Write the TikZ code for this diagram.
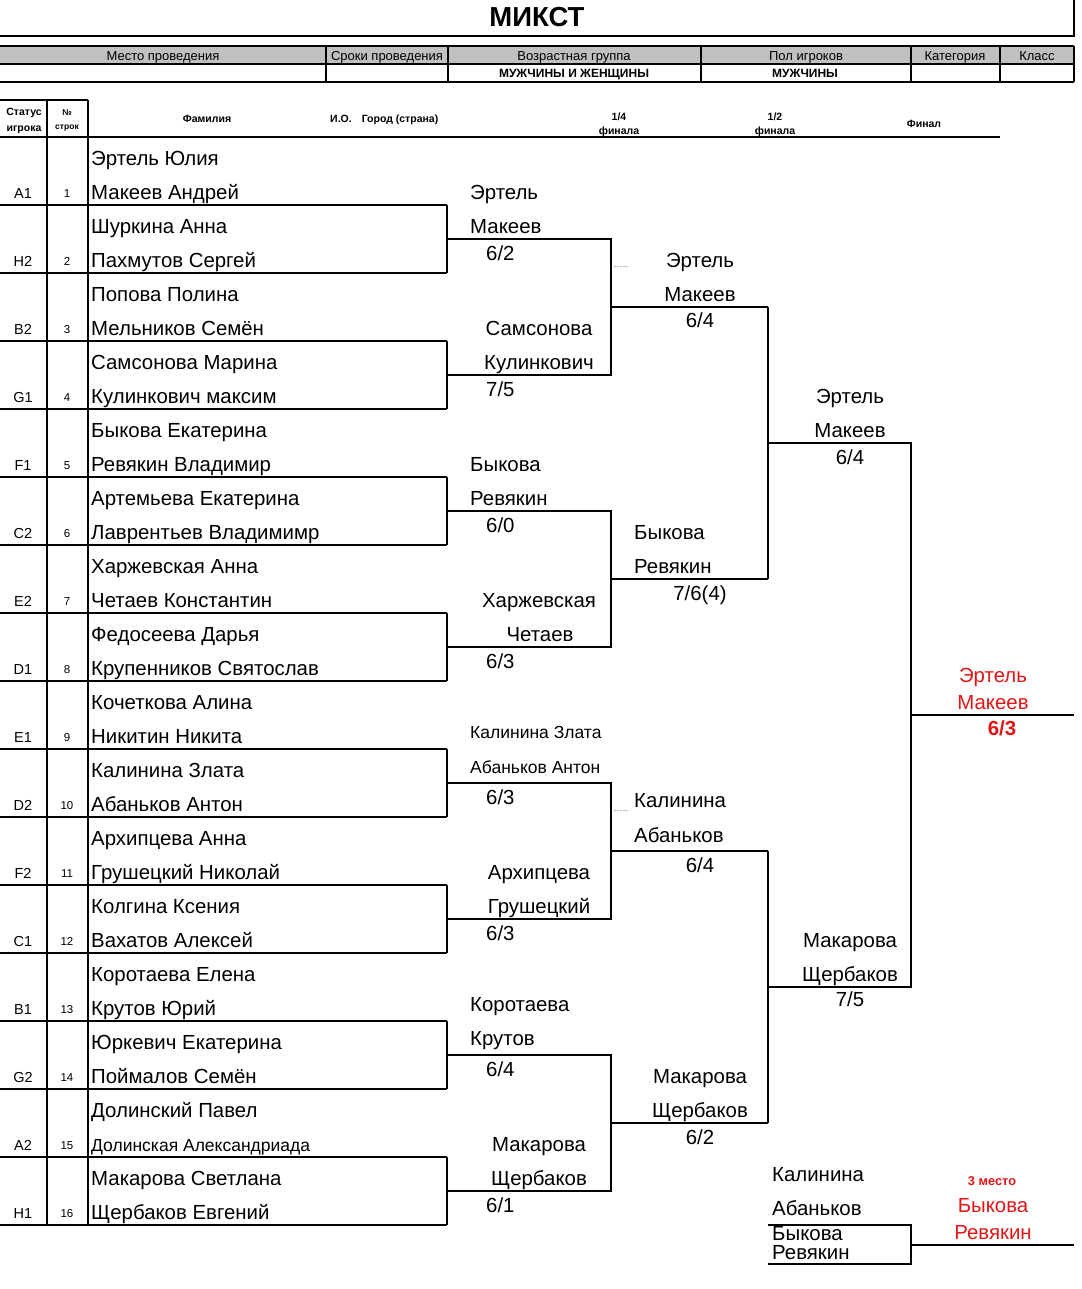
\documentclass[tikz,border=0pt]{standalone}
\usepackage{fontspec}
\setmainfont{Liberation Sans}
\definecolor{hdrgray}{RGB}{192,192,192}
\definecolor{redtxt}{RGB}{226,22,22}
\begin{document}
\begin{tikzpicture}[x=1pt,y=-1pt,
  ln/.style={line width=1.1pt},
  thk/.style={line width=2pt},
  nm/.style={font=\fontsize{20.4}{24}\selectfont, inner sep=0pt, anchor=mid west, yshift=-5pt},
  nmc/.style={font=\fontsize{20.4}{24}\selectfont, inner sep=0pt, anchor=mid, yshift=-5pt},
  nms/.style={font=\fontsize{17.5}{21}\selectfont, inner sep=0pt, anchor=mid west, yshift=-4pt},
  lab/.style={font=\fontsize{14.5}{17}\selectfont, inner sep=0pt, anchor=mid, yshift=-3pt},
  num/.style={font=\fontsize{11.5}{14}\selectfont, inner sep=0pt, anchor=mid, yshift=-2pt},
  hd/.style={font=\fontsize{13}{15}\selectfont, inner sep=0pt, anchor=mid, yshift=-3pt},
  hdb/.style={font=\fontsize{12}{14}\bfseries\selectfont, inner sep=0pt, anchor=mid, yshift=-2pt},
  colh/.style={font=\fontsize{10.5}{13}\bfseries\selectfont, inner sep=0pt, anchor=mid, yshift=-2pt},
  colt/.style={font=\fontsize{8.5}{10}\bfseries\selectfont, inner sep=0pt, anchor=mid, yshift=-2pt},
  rd/.style={text=redtxt}]
\useasboundingbox (0,0) rectangle (1081,1289);

% ---------- title ----------
\node[font=\fontsize{27.5}{32}\bfseries\selectfont, inner sep=0pt, anchor=mid, yshift=-7pt] (title) at (537,17) {МИКСТ};
\coordinate (tl) at (0,36); \coordinate (tr) at (1074,36); \coordinate (tt) at (1074,0);
\draw[ln] (tl) -- (tr) -- (tt);

% ---------- header table ----------
\fill[hdrgray] (0,46) rectangle (1074,64);
\foreach \yy in {46,64,82} \draw[ln] (0,\yy) -- (1074,\yy);
\foreach \xx in {326,448,701,911,1000,1074} \draw[ln] (\xx,46) -- (\xx,82);
\node[hd] (h1) at (163,55) {Место проведения};
\node[hd] (h2) at (387,55) {Сроки проведения};
\node[hd] (h3) at (574,55) {Возрастная группа};
\node[hd] (h4) at (806,55) {Пол игроков};
\node[hd] (h5) at (955,55) {Категория};
\node[hd] (h6) at (1037,55) {Класс};
\node[hdb] (v3) at (574,73) {МУЖЧИНЫ И ЖЕНЩИНЫ};
\node[hdb] (v4) at (805,73) {МУЖЧИНЫ};

% ---------- column headers ----------
\draw[ln] (0,100) -- (88,100);
\draw[ln] (47,100) -- (47,1225);
\draw[thk] (88,100) -- (88,1225);
\draw[ln] (0,137) -- (1000,137);
\node[colh] (c1a) at (24,111) {Статус};
\node[colh] (c1b) at (24,127) {игрока};
\node[colt] (c2a) at (67,111) {№};
\node[colt] (c2b) at (67,125) {строк};
\node[colh] (c3) at (207,118) {Фамилия};
\node[colh, anchor=mid west] (c4) at (330,118) {И.О.\hspace{10pt}Город (страна)};
\node[colh] (c5a) at (619,116) {1/4};
\node[colh] (c5b) at (619,130) {финала};
\node[colh] (c6a) at (775,116) {1/2};
\node[colh] (c6b) at (775,130) {финала};
\node[colh] (c7) at (924,123) {Финал};

% ---------- grid of slots ----------
\foreach \k in {1,...,16} \draw[ln] (0,{137+68*\k}) -- (447,{137+68*\k});
\foreach \m in {1,...,8} \draw[ln] (447,{137+68*(2*\m-1)}) -- (447,{137+68*(2*\m)});

% ---------- players ----------
\foreach \k/\st/\a/\b in {
 1/A1/Эртель Юлия/Макеев Андрей,
 2/H2/Шуркина Анна/Пахмутов Сергей,
 3/B2/Попова Полина/Мельников Семён,
 4/G1/Самсонова Марина/Кулинкович максим,
 5/F1/Быкова Екатерина/Ревякин Владимир,
 6/C2/Артемьева Екатерина/Лаврентьев Владимимр,
 7/E2/Харжевская Анна/Четаев Константин,
 8/D1/Федосеева Дарья/Крупенников Святослав,
 9/E1/Кочеткова Алина/Никитин Никита,
 10/D2/Калинина Злата/Абаньков Антон,
 11/F2/Архипцева Анна/Грушецкий Николай,
 12/C1/Колгина Ксения/Вахатов Алексей,
 13/B1/Коротаева Елена/Крутов Юрий,
 14/G2/Юркевич Екатерина/Поймалов Семён,
 15/A2/Долинский Павел/,
 16/H1/Макарова Светлана/Щербаков Евгений}{
  \node[nm] (p\k-a) at (91,{137+68*(\k-1)+21}) {\a};
  \node[nm] (p\k-b) at (91,{137+68*(\k-1)+55}) {\b};
  \node[lab] (s\k) at (23,{137+68*(\k-1)+56}) {\st};
  \node[num] (n\k) at (67,{137+68*(\k-1)+56}) {\k};
}
\node[nms] (p15-c) at (91,1145) {Долинская Александриада};

% ---------- bracket lines ----------
\foreach \p in {1,...,4}{
  \coordinate (r\p-a) at (447,{103+136*(2*\p-1)});
  \coordinate (r\p-b) at (611,{103+136*(2*\p-1)});
  \coordinate (r\p-c) at (611,{103+136*(2*\p)});
  \coordinate (r\p-d) at (447,{103+136*(2*\p)});
  \coordinate (q\p-a) at (611,{103+136*(2*\p)-68});
  \coordinate (q\p-b) at (768,{103+136*(2*\p)-68});
  \draw[ln] (r\p-a) -- (r\p-b) -- (r\p-c) -- (r\p-d);
  \draw[ln] (q\p-a) -- (q\p-b);
}
\coordinate (sf1-a) at (768,443); \coordinate (sf1-b) at (911,443);
\coordinate (sf2-a) at (768,987); \coordinate (sf2-b) at (911,987);
\draw[ln] (q1-b) -- (q2-b);
\draw[ln] (q3-b) -- (q4-b);
\draw[ln] (sf1-a) -- (sf1-b) -- (sf2-b) -- (sf2-a);
\coordinate (fin-a) at (911,715); \coordinate (fin-b) at (1074,715);
\draw[ln] (fin-a) -- (fin-b);
% third place
\coordinate (t-a) at (768,1225); \coordinate (t-b) at (911,1225);
\coordinate (t-c) at (911,1264); \coordinate (t-d) at (768,1264);
\coordinate (t-e) at (911,1245); \coordinate (t-f) at (1074,1245);
\draw[ln] (t-a) -- (t-b) -- (t-c) -- (t-d);
\draw[ln] (t-e) -- (t-f);
% faint marks
\coordinate (fm1-a) at (614,266); \coordinate (fm1-b) at (628,266);
\coordinate (fm2-a) at (614,810); \coordinate (fm2-b) at (628,810);
\draw[gray!60, line width=0.6pt, dash pattern=on 2pt off 1pt] (fm1-a) -- (fm1-b);
\draw[gray!60, line width=0.6pt, dash pattern=on 2pt off 1pt] (fm2-a) -- (fm2-b);

% ---------- round 1 winners ----------
\node[nm] (w1a) at (470,192) {Эртель};
\node[nm] (w1b) at (470,226) {Макеев};
\node[nm] (w1s) at (486,253) {6/2};
\node[nmc] (w2a) at (539,328) {Самсонова};
\node[nmc] (w2b) at (539,362) {Кулинкович};
\node[nm] (w2s) at (486,389) {7/5};
\node[nm] (w3a) at (470,464) {Быкова};
\node[nm] (w3b) at (470,498) {Ревякин};
\node[nm] (w3s) at (486,525) {6/0};
\node[nmc] (w4a) at (539,600) {Харжевская};
\node[nmc] (w4b) at (540,634) {Четаев};
\node[nm] (w4s) at (486,661) {6/3};
\node[nms] (w5a) at (470,732) {Калинина Злата};
\node[nms] (w5b) at (470,767) {Абаньков Антон};
\node[nm] (w5s) at (486,797) {6/3};
\node[nmc] (w6a) at (539,872) {Архипцева};
\node[nmc] (w6b) at (539,906) {Грушецкий};
\node[nm] (w6s) at (486,933) {6/3};
\node[nm] (w7a) at (470,1004) {Коротаева};
\node[nm] (w7b) at (470,1038) {Крутов};
\node[nm] (w7s) at (486,1069) {6/4};
\node[nmc] (w8a) at (539,1144) {Макарова};
\node[nmc] (w8b) at (539,1178) {Щербаков};
\node[nm] (w8s) at (486,1205) {6/1};

% ---------- quarter-final winners ----------
\node[nmc] (x1a) at (700,260) {Эртель};
\node[nmc] (x1b) at (700,294) {Макеев};
\node[nmc] (x1s) at (700,320) {6/4};
\node[nm] (x2a) at (634,532) {Быкова};
\node[nm] (x2b) at (634,566) {Ревякин};
\node[nmc] (x2s) at (700,593) {7/6(4)};
\node[nm] (x3a) at (634,800) {Калинина};
\node[nm] (x3b) at (634,835) {Абаньков};
\node[nmc] (x3s) at (700,865) {6/4};
\node[nmc] (x4a) at (700,1076) {Макарова};
\node[nmc] (x4b) at (700,1110) {Щербаков};
\node[nmc] (x4s) at (700,1137) {6/2};

% ---------- semi-final winners ----------
\node[nmc] (y1a) at (850,396) {Эртель};
\node[nmc] (y1b) at (850,430) {Макеев};
\node[nmc] (y1s) at (850,457) {6/4};
\node[nmc] (y2a) at (850,940) {Макарова};
\node[nmc] (y2b) at (850,974) {Щербаков};
\node[nmc] (y2s) at (850,999) {7/5};

% ---------- final ----------
\node[nmc, rd] (z1a) at (993,675) {Эртель};
\node[nmc, rd] (z1b) at (993,702) {Макеев};
\node[nmc, rd, font=\fontsize{20.4}{24}\bfseries\selectfont] (z1s) at (1002,728) {6/3};

% ---------- third place ----------
\node[nm] (t1a) at (772,1174) {Калинина};
\node[nm] (t1b) at (772,1208) {Абаньков};
\node[nm] (t2a) at (772,1233) {Быкова};
\node[nm] (t2b) at (772,1252) {Ревякин};
\node[rd, font=\fontsize{12.8}{15}\bfseries\selectfont, inner sep=0pt, anchor=mid, yshift=-2pt] (tp) at (992,1181) {3 место};
\node[nmc, rd] (tw1) at (993,1205) {Быкова};
\node[nmc, rd] (tw2) at (993,1232) {Ревякин};
\end{tikzpicture}
\end{document}
